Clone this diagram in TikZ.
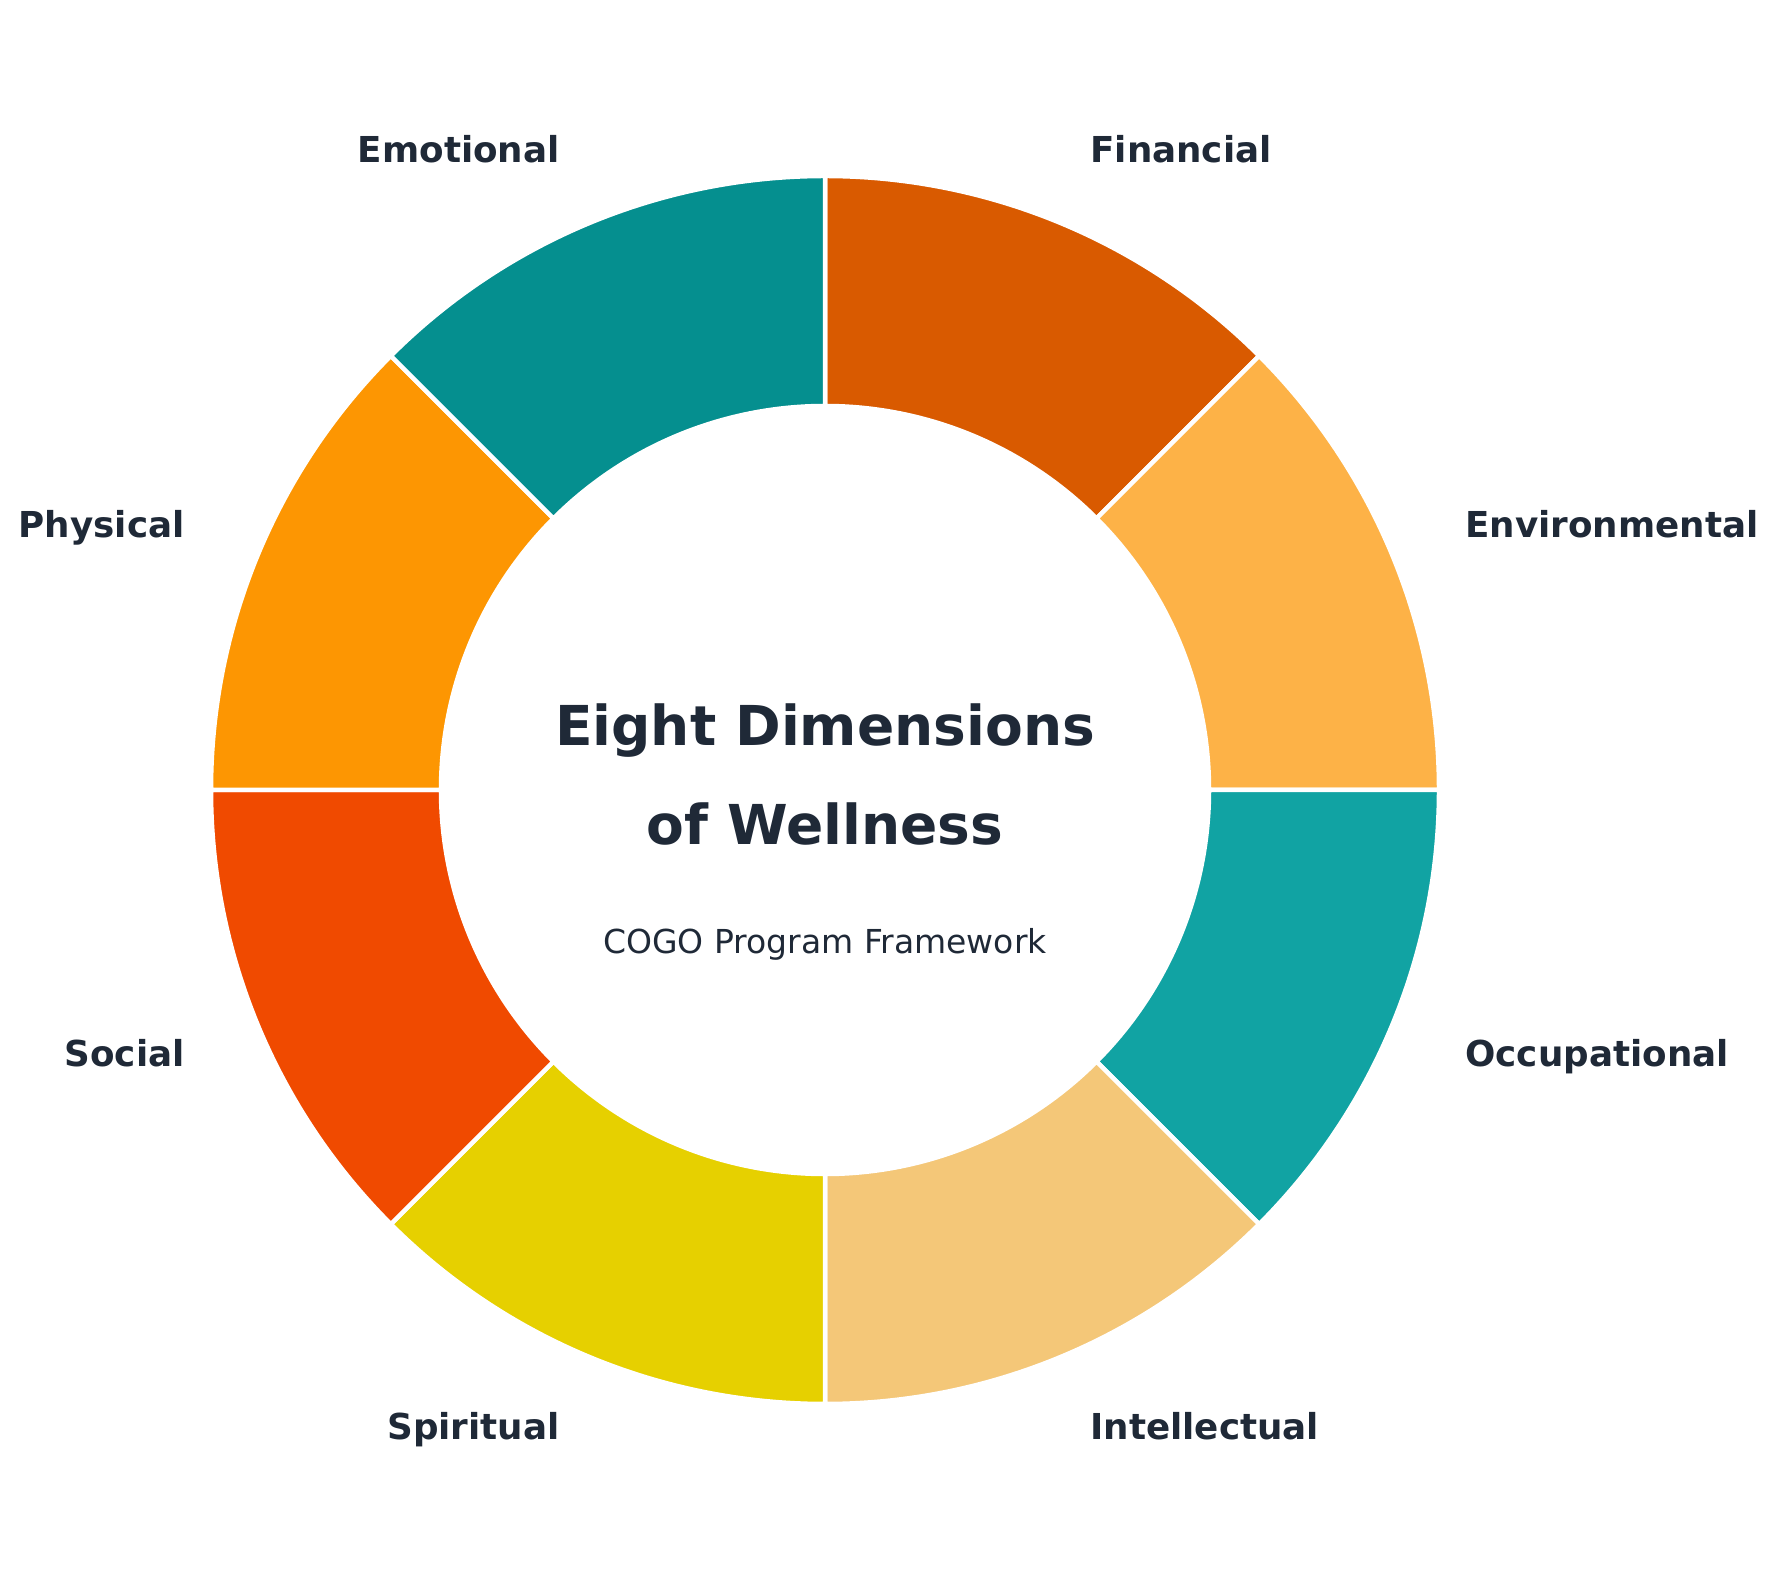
\documentclass[tikz,border=0pt]{standalone}
\usepackage{fontspec}
\setmainfont{DejaVu Sans}
\usetikzlibrary{calc}
\definecolor{ink}{HTML}{1F2937}
\definecolor{cfin}{HTML}{D95A00}
\definecolor{cenv}{HTML}{FDB247}
\definecolor{cocc}{HTML}{11A3A3}
\definecolor{cint}{HTML}{F4C778}
\definecolor{cspi}{HTML}{E6D000}
\definecolor{csoc}{HTML}{F04A00}
\definecolor{cphy}{HTML}{FD9602}
\definecolor{cemo}{HTML}{058F8F}
\begin{document}
\begin{tikzpicture}[x=1pt,y=1pt,
  seg/.style={draw=white, line width=4.5pt, line join=miter},
  lab/.style={font=\fontsize{35.7}{40}\selectfont\bfseries, text=ink, inner sep=0pt, text height=26pt, text depth=0pt},
  ttl/.style={font=\fontsize{55}{60}\selectfont\bfseries, text=ink, inner sep=0pt, text height=40pt, text depth=0pt},
  sub/.style={font=\fontsize{33}{38}\selectfont, text=ink, inner sep=0pt, text height=24pt, text depth=0pt}]
\useasboundingbox (0,0) rectangle (1779,1580);
\coordinate (c) at (825,790);
\foreach \s/\col in {90/cfin, 45/cenv, 0/cocc, -45/cint, -90/cspi, -135/csoc, 180/cphy, 135/cemo}{
  \path[fill=\col, seg] ([shift={(\s:614)}]c) arc[start angle=\s, end angle=\s-45, radius=614]
     -- ([shift={(\s-45:384)}]c) arc[start angle=\s-45, end angle=\s, radius=384] -- cycle;
}
\node[lab, anchor=west] (fin) at ([shift={(67.5:693)}]c) {Financial};
\node[lab, anchor=west] (env) at ([shift={(22.5:693)}]c) {Environmental};
\node[lab, anchor=west] (occ) at ([shift={(-22.5:693)}]c) [yshift=2pt] {Occupational};
\node[lab, anchor=west] (int) at ([shift={(-67.5:693)}]c) [yshift=4pt] {Intellectual};
\node[lab, anchor=east] (spi) at ([shift={(-112.5:693)}]c) [yshift=4pt] {Spiritual};
\node[lab, anchor=east] (soc) at ([shift={(-157.5:693)}]c) [yshift=2pt] {Social};
\node[lab, anchor=east] (phy) at ([shift={(157.5:693)}]c) {Physical};
\node[lab, anchor=east] (emo) at ([shift={(112.5:693)}]c) {Emotional};
\node[ttl] (t1) at (825,854) {Eight Dimensions};
\node[ttl] (t2) at (825,755) {of Wellness};
\node[sub] (st) at (825,638) {COGO Program Framework};
\end{tikzpicture}
\end{document}
